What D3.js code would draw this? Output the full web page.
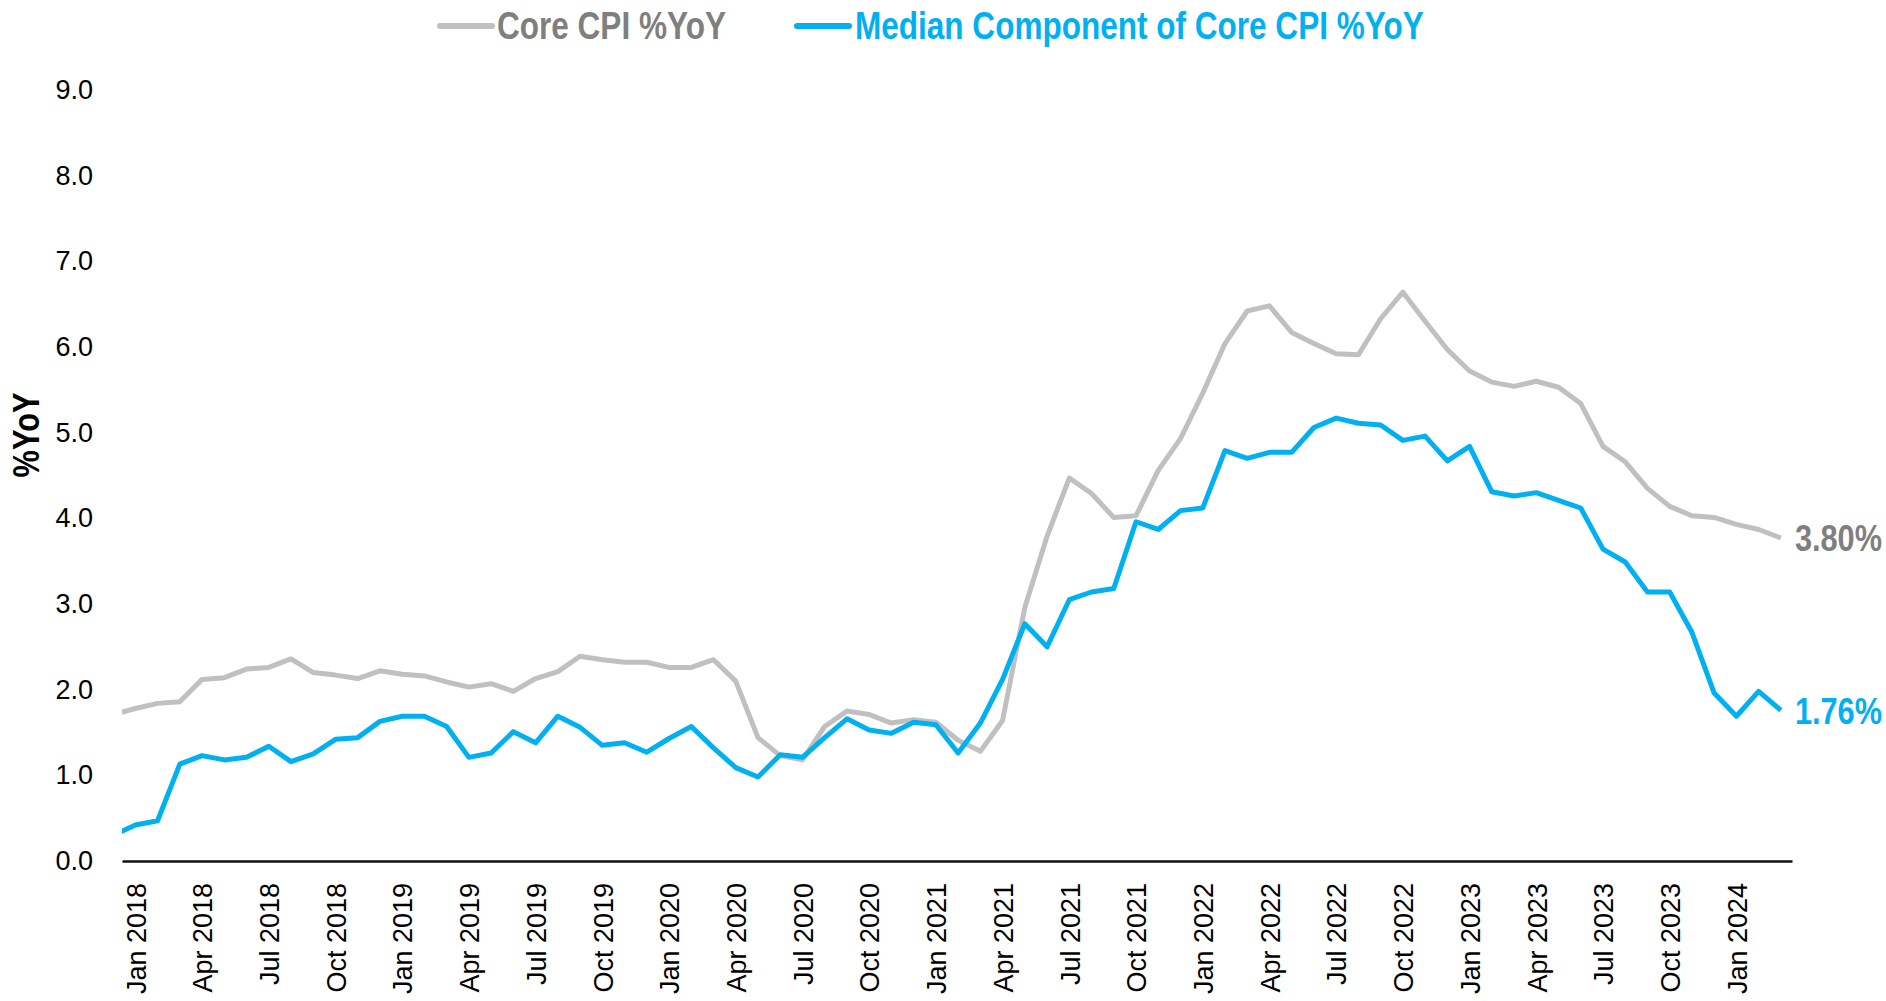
<!DOCTYPE html>
<html>
<head>
<meta charset="utf-8">
<script src="https://cdn.jsdelivr.net/npm/d3@7"></script>
<style>
  html, body { margin: 0; padding: 0; background: #fff; }
  svg { display: block; }
  .bold { font-family: "Liberation Sans", Arial, sans-serif; font-weight: bold; }
  .tick text { font-family: "Liberation Sans", Arial, sans-serif; font-size: 27px; fill: #000; }
</style>
</head>
<body>
<svg></svg>
<script>
// monthly observations, Dec 2017 .. Mar 2024 (Dec 2017 only partly visible at the left edge)
const months = d3.timeMonths(new Date(2017, 11, 1), new Date(2024, 3, 1));

const coreCpi = [
  1.71,
  1.78, 1.84, 1.86, 2.12, 2.14, 2.24, 2.26, 2.36, 2.20, 2.17, 2.13, 2.22,
  2.18, 2.16, 2.09, 2.03, 2.07, 1.98, 2.13, 2.21, 2.39, 2.35, 2.32, 2.32,
  2.26, 2.26, 2.35, 2.10, 1.44, 1.23, 1.18, 1.57, 1.75, 1.71, 1.61, 1.65,
  1.62, 1.41, 1.28, 1.64, 2.96, 3.79, 4.47, 4.29, 4.01, 4.03, 4.56, 4.93,
  5.46, 6.04, 6.42, 6.48, 6.17, 6.04, 5.92, 5.91, 6.33, 6.64, 6.30, 5.97,
  5.72, 5.59, 5.54, 5.60, 5.53, 5.34, 4.84, 4.66, 4.35, 4.14, 4.03, 4.01,
  3.93, 3.87, 3.77
];

const medianCpi = [
  0.30,
  0.42, 0.47, 1.13, 1.23, 1.18, 1.21, 1.34, 1.16, 1.25, 1.42, 1.44, 1.63,
  1.69, 1.69, 1.57, 1.21, 1.26, 1.51, 1.38, 1.69, 1.56, 1.35, 1.38, 1.27,
  1.43, 1.57, 1.32, 1.09, 0.98, 1.24, 1.21, 1.44, 1.66, 1.53, 1.49, 1.62,
  1.59, 1.26, 1.61, 2.12, 2.77, 2.50, 3.05, 3.14, 3.18, 3.96, 3.87, 4.09,
  4.12, 4.79, 4.70, 4.77, 4.77, 5.06, 5.17, 5.11, 5.09, 4.91, 4.96, 4.67,
  4.84, 4.31, 4.26, 4.30, 4.21, 4.12, 3.64, 3.49, 3.14, 3.14, 2.67, 1.96,
  1.69, 1.98, 1.76
];

const tickLabels = [
  'Jan 2018', 'Apr 2018', 'Jul 2018', 'Oct 2018',
  'Jan 2019', 'Apr 2019', 'Jul 2019', 'Oct 2019',
  'Jan 2020', 'Apr 2020', 'Jul 2020', 'Oct 2020',
  'Jan 2021', 'Apr 2021', 'Jul 2021', 'Oct 2021',
  'Jan 2022', 'Apr 2022', 'Jul 2022', 'Oct 2022',
  'Jan 2023', 'Apr 2023', 'Jul 2023', 'Oct 2023',
  'Jan 2024'
];

const yTicks = [0, 1, 2, 3, 4, 5, 6, 7, 8, 9];

const seriesNames = ['Core CPI %YoY', 'Median Component of Core CPI %YoY'];
const endLabels = ['3.80%', '1.76%'];

const grey = '#c0c0c0';
const greyText = '#7f7f7f';
const blue = '#00b0f0';

const width = 1886, height = 1001;
const plotLeft = 122, plotRight = 1792, plotTop = 90, plotBottom = 861;
const narrow = 0.83; // squeeze bold text to look like a narrow face

const svg = d3.select('svg').attr('width', width).attr('height', height);

// x runs on month index; Jan 2018 is index 1
const x = d3.scaleLinear().domain([0.4, 75.5]).range([plotLeft, plotRight]);
const y = d3.scaleLinear().domain([0, 9]).range([plotBottom, plotTop]);

svg.append('defs').append('clipPath').attr('id', 'plot')
  .append('rect')
  .attr('x', plotLeft).attr('y', 0)
  .attr('width', plotRight - plotLeft).attr('height', height);

// y axis (labels only)
const yAxis = svg.append('g')
  .attr('transform', `translate(${plotLeft},0)`)
  .call(d3.axisLeft(y).tickValues(yTicks).tickFormat(d3.format('.1f')).tickSize(0).tickPadding(29));
yAxis.select('.domain').remove();

// x axis
const tickIdx = tickLabels.map((d, i) => 1 + i * 3);
const xAxis = svg.append('g')
  .attr('transform', `translate(0,${plotBottom})`)
  .call(d3.axisBottom(x).tickValues(tickIdx).tickFormat((d, i) => tickLabels[i]).tickSize(0).tickSizeOuter(0));
xAxis.select('.domain').attr('stroke', '#111').attr('stroke-width', 2.5);
xAxis.selectAll('.tick text')
  .attr('transform', 'rotate(-90)')
  .attr('text-anchor', 'end')
  .attr('x', -22)
  .attr('y', 0)
  .attr('dy', '0.36em');

// y title
svg.append('text')
  .attr('class', 'bold')
  .attr('transform', `translate(26,435) rotate(-90) scale(${narrow},1)`)
  .attr('text-anchor', 'middle')
  .attr('dy', '0.35em')
  .attr('font-size', 37)
  .attr('fill', '#000')
  .text('%YoY');

// lines
const line = d3.line()
  .x((d, i) => x(i))
  .y((d) => y(d));

const plot = svg.append('g').attr('clip-path', 'url(#plot)');

plot.append('path')
  .datum(coreCpi)
  .attr('fill', 'none')
  .attr('stroke', grey)
  .attr('stroke-width', 5)
  .attr('stroke-linejoin', 'round')
  .attr('d', line);

plot.append('path')
  .datum(medianCpi)
  .attr('fill', 'none')
  .attr('stroke', blue)
  .attr('stroke-width', 5)
  .attr('stroke-linejoin', 'round')
  .attr('d', line);

// end labels
const last = months.length - 1;
[[coreCpi, greyText], [medianCpi, blue]].forEach(([s, c], k) => {
  svg.append('text')
    .attr('class', 'bold')
    .attr('transform', `translate(${x(last) + 14},${y(s[last])}) scale(${narrow},1)`)
    .attr('dy', '0.36em')
    .attr('font-size', 37)
    .attr('fill', c)
    .text(endLabels[k]);
});

// legend
const legend = [
  { name: seriesNames[0], stroke: grey, text: greyText, x0: 440, x1: 492, tx: 497 },
  { name: seriesNames[1], stroke: blue, text: blue, x0: 797, x1: 849, tx: 855 }
];
legend.forEach((l) => {
  svg.append('line')
    .attr('x1', l.x0).attr('x2', l.x1)
    .attr('y1', 26).attr('y2', 26)
    .attr('stroke', l.stroke)
    .attr('stroke-width', 6)
    .attr('stroke-linecap', 'round');
  svg.append('text')
    .attr('class', 'bold')
    .attr('transform', `translate(${l.tx},39) scale(${narrow},1)`)
    .attr('font-size', 38)
    .attr('fill', l.text)
    .text(l.name);
});
</script>
</body>
</html>
